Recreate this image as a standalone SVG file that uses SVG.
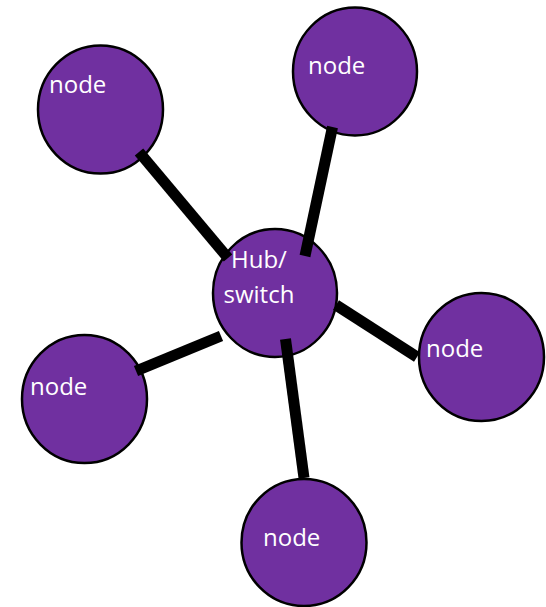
<svg xmlns="http://www.w3.org/2000/svg" width="546" height="607" viewBox="0 0 546 607">
<style>
.n{fill:#7030A0;stroke:#000;stroke-width:2.5}
.t{font-family:"Open Sans","Liberation Sans",sans-serif;font-size:24px;fill:#fff}
.c{stroke:#000;stroke-width:11;stroke-linecap:butt}
</style>
<rect width="546" height="607" fill="#fff"/>
<g id="node-tl"><ellipse class="n" cx="100.5" cy="109.5" rx="62.5" ry="64"/><text class="t" x="49" y="93">node</text></g>
<g id="node-tr"><ellipse class="n" cx="355" cy="71.5" rx="62" ry="64"/><text class="t" x="308" y="74">node</text></g>
<g id="hub"><ellipse class="n" cx="275" cy="293" rx="62" ry="64"/><text class="t" x="231" y="268">Hub/</text><text class="t" x="223.5" y="303">switch</text></g>
<g id="node-r"><ellipse class="n" cx="481.5" cy="357" rx="62.5" ry="64"/><text class="t" x="426" y="357">node</text></g>
<g id="node-l"><ellipse class="n" cx="84.5" cy="399" rx="62.5" ry="64"/><text class="t" x="30" y="395">node</text></g>
<g id="node-b"><ellipse class="n" cx="304" cy="542.5" rx="62.5" ry="63.5"/><text class="t" x="263" y="546">node</text></g>
<g id="connectors">
<line class="c" x1="139" y1="152" x2="228" y2="258"/>
<line class="c" x1="332.5" y1="127" x2="305" y2="256"/>
<line class="c" x1="336" y1="305" x2="417" y2="357"/>
<line class="c" x1="221" y1="336" x2="136" y2="371"/>
<line class="c" x1="285.5" y1="339" x2="304" y2="478"/>
</g>
</svg>
